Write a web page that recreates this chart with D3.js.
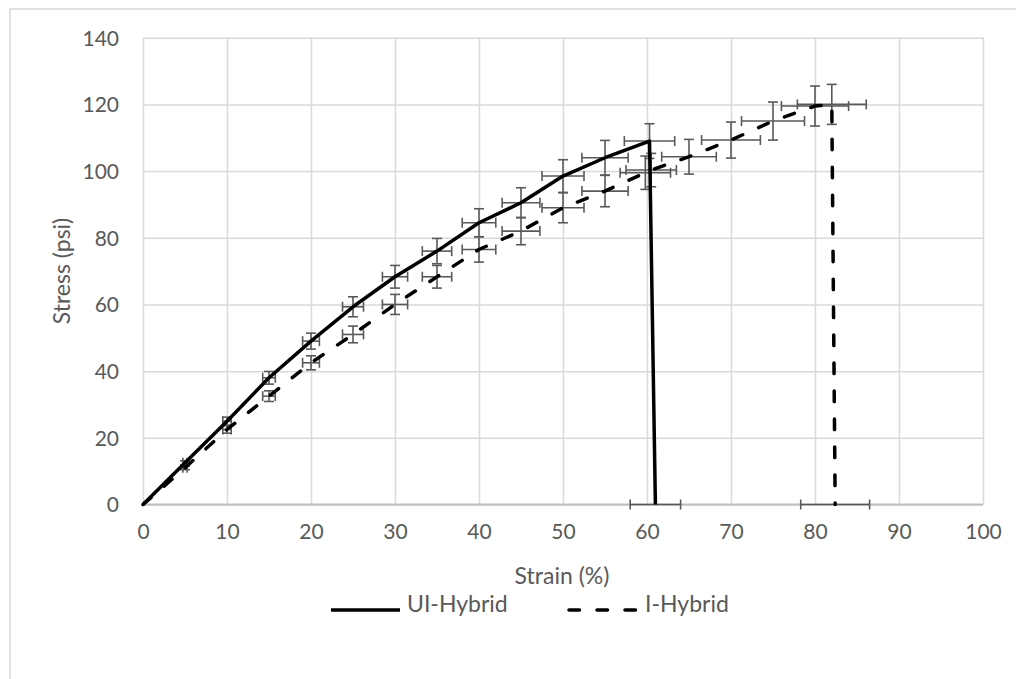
<!DOCTYPE html>
<html>
<head>
<meta charset="utf-8">
<script src="https://cdn.jsdelivr.net/npm/d3@7"></script>
<style>
  body { margin: 0; background: #fff; }
  text { font-family: Lato, "Open Sans", sans-serif; fill: #595959; }
</style>
</head>
<body>
<div id="theChart"></div>
<script>
// UI-Hybrid series (strain %, stress psi, error bars)
var uiStrain = [0, 5, 10, 15, 20, 25, 30, 35, 40, 45, 50, 55, 60.3, 61]
var uiStress = [0, 12.5, 25, 38, 49, 59.3, 68.3, 76, 84.5, 90.5, 98.5, 104, 109, 0]
var uiStrainErr = [0, 0.25, 0.5, 0.75, 1, 1.25, 1.5, 1.75, 2, 2.25, 2.5, 2.75, 3, 3]
var uiStressErr = [0, 0.6, 1.2, 1.9, 2.4, 3, 3.4, 3.8, 4.2, 4.5, 4.9, 5.2, 5.2, 0]

// I-Hybrid series
var iStrain = [0, 5, 10, 15, 20, 25, 30, 35, 40, 45, 50, 55, 59.8, 60.5, 65, 70, 75, 80, 82, 82.4]
var iStress = [0, 11, 22.5, 32.5, 42.5, 51, 60, 68.3, 76.5, 82, 89, 94, 99.5, 100.3, 104.3, 109.3, 115, 119.5, 120, 0]
var iStrainErr = [0, 0.25, 0.5, 0.75, 1, 1.25, 1.5, 1.75, 2, 2.25, 2.5, 2.75, 3, 3, 3.25, 3.5, 3.75, 4, 4.1, 4.1]
var iStressErr = [0, 0.55, 1.1, 1.6, 2.1, 2.5, 3, 3.4, 3.8, 4.1, 4.5, 4.7, 5, 5, 5.2, 5.4, 5.7, 6, 6, 0]

var xTicks = [0, 10, 20, 30, 40, 50, 60, 70, 80, 90, 100]
var yTicks = [0, 20, 40, 60, 80, 100, 120, 140]

var seriesNames = ['UI-Hybrid', 'I-Hybrid']

var W = 1016, H = 679
var margin = {left: 143, top: 37.7, right: W - 983, bottom: H - 504.5}
var width = W - margin.left - margin.right
var height = H - margin.top - margin.bottom

var svg = d3.select('#theChart').append('svg')
  .attr('width', W).attr('height', H)

// outer chart border (runs past the right / bottom edges)
svg.append('rect')
  .attr('x', 10).attr('y', 9).attr('width', 1030).attr('height', 700)
  .attr('fill', '#fff').attr('stroke', '#d9d9d9').attr('stroke-width', 1.5)

var g = svg.append('g').attr('transform', 'translate(' + margin.left + ',' + margin.top + ')')

var x = d3.scaleLinear().domain([0, 100]).range([0, width])
var y = d3.scaleLinear().domain([0, 140]).range([height, 0])

// gridlines + labels via axes
var yAxis = d3.axisLeft(y).tickValues(yTicks).tickSizeInner(-width).tickSizeOuter(0).tickPadding(24)
var xAxis = d3.axisBottom(x).tickValues(xTicks).tickSizeInner(-height).tickSizeOuter(0).tickPadding(24)

var ya = g.append('g').call(yAxis)
ya.select('.domain').remove()
ya.selectAll('line').attr('stroke', '#d9d9d9').attr('stroke-width', 1.5)
ya.selectAll('text').attr('font-size', 21).attr('fill', '#595959').attr('dy', '0.35em')

var xa = g.append('g').attr('transform', 'translate(0,' + height + ')').call(xAxis)
xa.select('.domain').remove()
xa.selectAll('line').attr('stroke', '#d9d9d9').attr('stroke-width', 1.5)
xa.selectAll('text').attr('font-size', 21).attr('fill', '#595959').attr('dy', '0.5em')

// horizontal axis line
g.append('line').attr('x1', 0).attr('x2', width).attr('y1', height).attr('y2', height)
  .attr('stroke', '#bfbfbf').attr('stroke-width', 2)

function toPts(xs, ys, xe, ye){
  return xs.map(function(d, i){ return {x: d, y: ys[i], xe: xe[i], ye: ye[i]} })
}
var ui = toPts(uiStrain, uiStress, uiStrainErr, uiStressErr)
var ih = toPts(iStrain, iStress, iStrainErr, iStressErr)

// error bars
var cap = 5
var errG = g.append('g').attr('stroke', '#595959').attr('stroke-width', 1.6).attr('fill', 'none')
function drawErr(pts){
  pts.forEach(function(d){
    var cx = x(d.x), cy = y(d.y)
    if (d.xe > 0){
      var x0 = x(d.x - d.xe), x1 = x(d.x + d.xe)
      errG.append('line').attr('x1', x0).attr('x2', x1).attr('y1', cy).attr('y2', cy)
      errG.append('line').attr('x1', x0).attr('x2', x0).attr('y1', cy - cap).attr('y2', cy + cap)
      errG.append('line').attr('x1', x1).attr('x2', x1).attr('y1', cy - cap).attr('y2', cy + cap)
    }
    if (d.ye > 0){
      var y0 = y(d.y - d.ye), y1 = y(d.y + d.ye)
      errG.append('line').attr('x1', cx).attr('x2', cx).attr('y1', y0).attr('y2', y1)
      errG.append('line').attr('x1', cx - cap).attr('x2', cx + cap).attr('y1', y0).attr('y2', y0)
      errG.append('line').attr('x1', cx - cap).attr('x2', cx + cap).attr('y1', y1).attr('y2', y1)
    }
  })
}
drawErr(ui)
drawErr(ih)

var line = d3.line().x(function(d){ return x(d.x) }).y(function(d){ return y(d.y) })

g.append('path').attr('d', line(ui))
  .attr('fill', 'none').attr('stroke', '#000').attr('stroke-width', 3.5)
  .attr('stroke-linejoin', 'round')
g.append('path').attr('d', line(ih))
  .attr('fill', 'none').attr('stroke', '#000').attr('stroke-width', 3.5)
  .attr('stroke-dasharray', '10.5,17.5').attr('stroke-linecap', 'round')

// axis titles
svg.append('text').attr('x', 562).attr('y', 576).attr('dy', '0.35em')
  .attr('text-anchor', 'middle').attr('font-size', 23).text('Strain (%)')
svg.append('text').attr('transform', 'translate(62,271) rotate(-90)').attr('dy', '0.35em')
  .attr('text-anchor', 'middle').attr('font-size', 23).text('Stress (psi)')

// legend
var leg = svg.append('g')
var legX = [331, 569]
seriesNames.forEach(function(name, i){
  var l = leg.append('line').attr('x1', legX[i]).attr('x2', legX[i] + 69)
    .attr('y1', 610).attr('y2', 610).attr('stroke', '#000').attr('stroke-width', 3.5)
  if (i == 1) l.attr('stroke-dasharray', '10.5,17.5').attr('stroke-linecap', 'round')
  leg.append('text').attr('x', legX[i] + 76).attr('y', 604).attr('dy', '0.35em')
    .attr('font-size', 23).text(name)
})
</script>
</body>
</html>
